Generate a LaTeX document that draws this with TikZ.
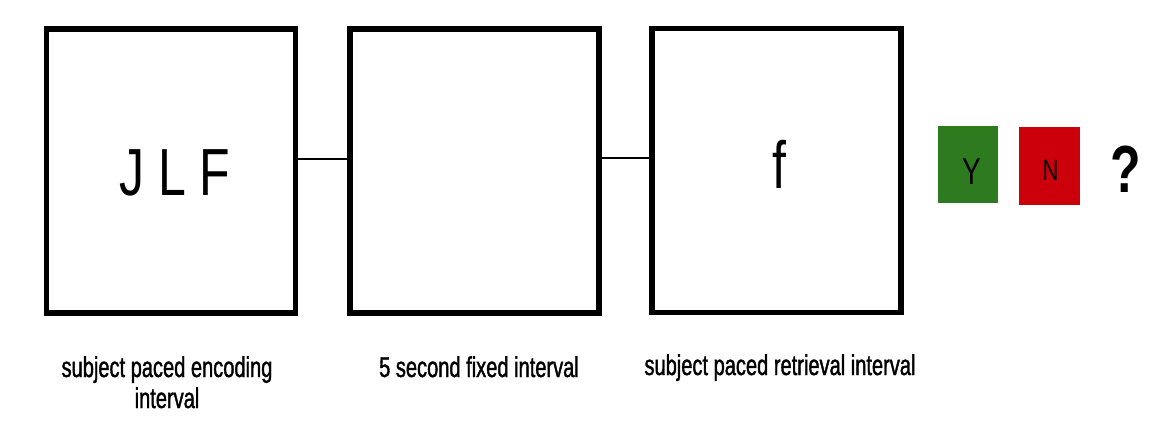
\documentclass[tikz,border=0pt]{standalone}
\usepackage{fontspec}
\newfontfamily\narrow[FakeStretch=0.75]{Liberation Sans}
\newfontfamily\narrowheavy[FakeStretch=0.70,FakeBold=1.3]{Liberation Sans}
\definecolor{yesgreen}{RGB}{46,122,31}
\definecolor{nored}{RGB}{204,0,10}
\tikzset{
  trial/.style={draw=black, line width=4.2pt, minimum width=186.75pt,
    minimum height=213pt, inner sep=0pt, fill=white},
  link/.style={draw=black, line width=1.1pt},
  caption/.style={font=\narrowheavy\fontsize{21.5}{23.25}\selectfont, align=center,
    anchor=base, inner sep=0pt},
  stim/.style={font=\narrow\fontsize{50}{56}\selectfont, anchor=base, inner sep=0pt},
  keybox/.style={inner sep=0pt, minimum width=45pt, minimum height=58pt},
  keylabel/.style={font=\narrow, anchor=base, inner sep=0pt, text=black}
}
\begin{document}
\begin{tikzpicture}[x=0.75pt, y=-0.75pt]
  \useasboundingbox[fill=white] (0,0) rectangle (1159,437);

  % the three trial screens
  \node[trial] (enc) at (171,171) {};
  \node[trial] (gap) at (474.5,171) {};
  \node[trial] (ret) at (776.5,170.5) {};

  % links between screens
  \coordinate (h1) at (0,159);
  \coordinate (h2) at (0,158);
  \draw[link] (enc.east |- h1) -- (gap.west |- h1);
  \draw[link] (gap.east |- h2) -- (ret.west |- h2);

  % stimuli
  \node[stim] (letters) at (175,195) {J L F};
  \node[stim] (probe) at (779,188) {f};

  % response keys
  \node[keybox, fill=yesgreen] (yes) at (968,164.5) {};
  \node[keybox, fill=nored, minimum width=45.75pt, minimum height=58.5pt] (no) at (1049.5,166) {};
  \node[keylabel, font=\narrow\fontsize{28}{30}\selectfont] (ylab) at (971.5,184) {Y};
  \node[keylabel, font=\narrow\fontsize{22}{24}\selectfont] (nlab) at (1050.5,180) {N};
  \node[stim, font=\narrow\bfseries\fontsize{50}{56}\selectfont] (ask) at (1125.5,192) {?};

  % captions (a two-line node sits on its last baseline)
  \node[caption] (encl) at (167,408) {subject paced encoding\\interval};
  \node[caption] (gapl) at (479,377) {5 second fixed interval};
  \node[caption] (retl) at (780,375) {subject paced retrieval interval};
\end{tikzpicture}
\end{document}
